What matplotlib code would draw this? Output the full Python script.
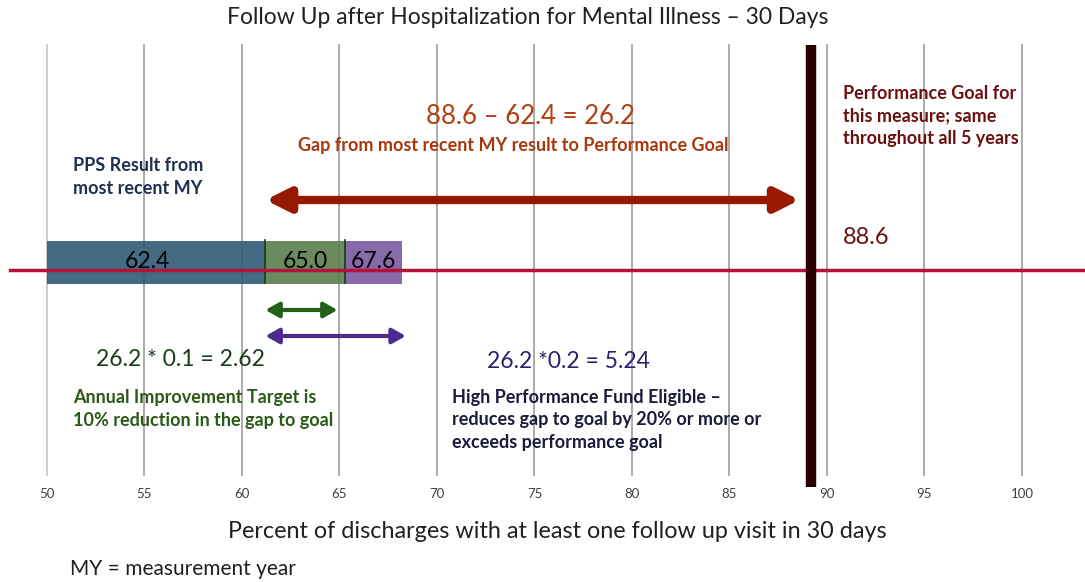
# gap-to-goal chart: follow up after hospitalization (30 days)

import matplotlib.pyplot as plt

plt.rcParams['font.family'] = ['Lato', 'DejaVu Sans']

# dados
ticks = [50, 55, 60, 65, 70, 75, 80, 85, 90, 95, 100]
bar_starts = [50, 61.2, 65.3]
bar_ends = [61.2, 65.3, 68.2]
bar_labels = ['62.4', '65.0', '67.6']
bar_colors = ['#2f5b76', '#5a7f4c', '#7c5aa0']
goal_line = 89.2
goal_label = '88.6'
gap_arrow = (61.2, 88.6)
aip_arrow = (61.2, 64.9)
hpf_arrow = (61.2, 68.4)

fig = plt.figure(figsize=(10.85, 5.82), dpi=100)
ax = fig.add_axes([0, 0, 1, 1])
px = 19.5  # pixels per unit
ax.set_xlim(50 - 47 / px, 50 + (1085 - 47) / px)
ax.set_ylim(582, 0)
ax.axis('off')


def xp(p):
    # posição em pixel -> unidade do eixo x
    return 50 + (p - 47) / px


# linhas de grade e rótulos do eixo
for t in ticks:
    ax.plot([t, t], [45, 475], color='#c8c8c8' if t == 50 else '#a4a4a4', lw=1.3, zorder=1)
    ax.text(t, 494, str(t), ha='center', va='center', fontsize=9.5, color='#404040')

# barras
for s, e, lab, c in zip(bar_starts, bar_ends, bar_labels, bar_colors):
    ax.barh(262, e - s, left=s, height=43, color=c, alpha=0.9, edgecolor='none', zorder=2)
    ax.text((s + e) / 2 - (0.45 if s == 50 else 0), 261, lab, ha='center', va='center',
            fontsize=16.5, color='black', zorder=4)
ax.plot([61.2, 61.2], [240, 283], color='#163a16', lw=1.2, zorder=3)
ax.plot([65.3, 65.3], [240, 283], color='#163a16', lw=1.2, zorder=3)

# linha vermelha horizontal
ax.axhline(270, xmin=10 / 1085, xmax=1, color='#b5123a', lw=2.5, zorder=5)

# linha da meta
ax.plot([goal_line, goal_line], [45, 487], color='#2a0000', lw=7.5, solid_capstyle='butt', zorder=6)

# setas
ax.annotate('', xy=(gap_arrow[1], 200), xytext=(gap_arrow[0], 200),
            arrowprops=dict(arrowstyle='<|-|>,head_length=1.4,head_width=0.7', color='#981800', lw=6,
                            shrinkA=0, shrinkB=0), zorder=5)
ax.annotate('', xy=(aip_arrow[1], 310), xytext=(aip_arrow[0], 310),
            arrowprops=dict(arrowstyle='<|-|>,head_length=0.8,head_width=0.45', color='#24601a', lw=3,
                            shrinkA=0, shrinkB=0), zorder=5)
ax.annotate('', xy=(hpf_arrow[1], 336), xytext=(hpf_arrow[0], 336),
            arrowprops=dict(arrowstyle='<|-|>,head_length=0.8,head_width=0.45', color='#4a2a8c', lw=3,
                            shrinkA=0, shrinkB=0), zorder=5)

# textos
ax.text(xp(528), 18, 'Follow Up after Hospitalization for Mental Illness – 30 Days',
        ha='center', va='center', fontsize=16.5, color='#202020')
ax.text(xp(73), 177, 'PPS Result from\nmost recent MY', ha='left', va='center',
        fontsize=13, fontweight='bold', color='#1f2f4f', linespacing=1.42)
ax.text(xp(530), 116, '88.6 – 62.4 = 26.2', ha='center', va='center',
        fontsize=18.5, color='#b04010')
ax.text(xp(513), 145, 'Gap from most recent MY result to Performance Goal', ha='center',
        va='center', fontsize=13, fontweight='bold', color='#a8380c')
ax.text(xp(843), 116, 'Performance Goal for\nthis measure; same\nthroughout all 5 years',
        ha='left', va='center', fontsize=13, fontweight='bold', color='#6a1010', linespacing=1.42)
ax.text(xp(843), 238, goal_label, ha='left', va='center', fontsize=17, color='#6a1010')
ax.text(xp(96), 360, '26.2 * 0.1 = 2.62', ha='left', va='center', fontsize=16.5,
        color='#1c3d1c')
ax.text(xp(73), 409, 'Annual Improvement Target is\n10% reduction in the gap to goal',
        ha='left', va='center', fontsize=13, fontweight='bold', color='#2a5a16', linespacing=1.42)
ax.text(xp(487), 361, '26.2 *0.2 = 5.24', ha='left', va='center', fontsize=16.5,
        color='#2e1f6e')
ax.text(xp(452), 420,
        'High Performance Fund Eligible –\nreduces gap to goal by 20% or more or\nexceeds performance goal',
        ha='left', va='center', fontsize=13, fontweight='bold', color='#1a1a3a', linespacing=1.42)
ax.text(xp(557), 531, 'Percent of discharges with at least one follow up visit in 30 days',
        ha='center', va='center', fontsize=16.8, color='#202020')
ax.text(xp(70), 569, 'MY = measurement year', ha='left', va='center',
        fontsize=15, color='#202020')

plt.savefig('out.png', dpi=100)
